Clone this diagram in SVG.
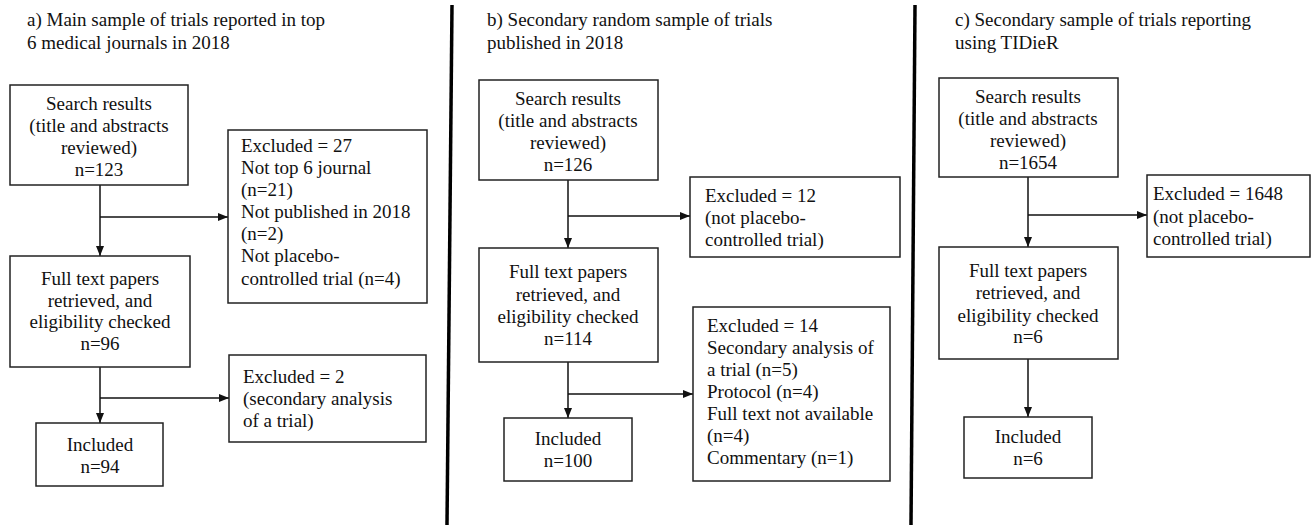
<svg xmlns="http://www.w3.org/2000/svg" width="1314" height="525" viewBox="0 0 1314 525" font-family="'Liberation Serif', 'DejaVu Serif', serif" font-size="19">
<defs>
<marker id="ah" markerWidth="10" markerHeight="8" refX="10" refY="4" orient="auto" markerUnits="userSpaceOnUse">
<path d="M0,0 L10,4 L0,8 Z" fill="#111"/>
</marker>
<style>
text{font-family:'Liberation Serif','DejaVu Serif',serif;font-size:19px;fill:#111}
.c{text-anchor:middle}
.box{fill:#fff;stroke:#222;stroke-width:1.5}
.ln{fill:none;stroke:#111;stroke-width:1.5}
.div{stroke:#000;stroke-width:3.5}
</style>
</defs>
<rect width="1314" height="525" fill="#fff"/>

<g id="titles">
<text x="27" y="26">a) Main sample of trials reported in top</text>
<text x="27" y="49">6 medical journals in 2018</text>
<text x="487" y="26">b) Secondary random sample of trials</text>
<text x="487" y="49">published in 2018</text>
<text x="955" y="26">c) Secondary sample of trials reporting</text>
<text x="955" y="49">using TIDieR</text>
</g>

<g id="dividers">
<line class="div" x1="452" y1="5" x2="447" y2="525"/>
<line class="div" x1="915" y1="5" x2="911" y2="525"/>
</g>

<g id="connectors">
<line class="ln" x1="100" y1="185" x2="100" y2="256" marker-end="url(#ah)"/>
<line class="ln" x1="100" y1="217" x2="228" y2="217" marker-end="url(#ah)"/>
<line class="ln" x1="100" y1="367" x2="100" y2="423" marker-end="url(#ah)"/>
<line class="ln" x1="100" y1="398" x2="229" y2="398" marker-end="url(#ah)"/>

<line class="ln" x1="568" y1="180" x2="568" y2="248" marker-end="url(#ah)"/>
<line class="ln" x1="568" y1="216" x2="690" y2="216" marker-end="url(#ah)"/>
<line class="ln" x1="568" y1="362" x2="568" y2="418" marker-end="url(#ah)"/>
<line class="ln" x1="568" y1="394" x2="693" y2="394" marker-end="url(#ah)"/>

<line class="ln" x1="1028" y1="177" x2="1028" y2="247" marker-end="url(#ah)"/>
<line class="ln" x1="1028" y1="215" x2="1147" y2="215" marker-end="url(#ah)"/>
<line class="ln" x1="1028" y1="359" x2="1028" y2="417" marker-end="url(#ah)"/>
</g>

<g id="a-search">
<rect class="box" x="10" y="85" width="178" height="100"/>
<text class="c" x="99" y="110">Search results</text>
<text class="c" x="99" y="132">(title and abstracts</text>
<text class="c" x="99" y="154">reviewed)</text>
<text class="c" x="99" y="176">n=123</text>
</g>
<g id="a-excl1">
<rect class="box" x="228" y="130" width="199" height="173"/>
<text x="241" y="152">Excluded = 27</text>
<text x="241" y="174">Not top 6 journal</text>
<text x="241" y="196">(n=21)</text>
<text x="241" y="218">Not published in 2018</text>
<text x="241" y="240">(n=2)</text>
<text x="241" y="262">Not placebo-</text>
<text x="241" y="285">controlled trial (n=4)</text>
</g>
<g id="a-full">
<rect class="box" x="10" y="256" width="180" height="111"/>
<text class="c" x="100" y="285">Full text papers</text>
<text class="c" x="100" y="307">retrieved, and</text>
<text class="c" x="100" y="328">eligibility checked</text>
<text class="c" x="100" y="350">n=96</text>
</g>
<g id="a-excl2">
<rect class="box" x="229" y="355" width="197" height="87"/>
<text x="243" y="383">Excluded = 2</text>
<text x="243" y="405">(secondary analysis</text>
<text x="243" y="427">of a trial)</text>
</g>
<g id="a-incl">
<rect class="box" x="36" y="423" width="127" height="63"/>
<text class="c" x="100" y="451">Included</text>
<text class="c" x="100" y="473">n=94</text>
</g>

<g id="b-search">
<rect class="box" x="479" y="80" width="179" height="100"/>
<text class="c" x="568" y="105">Search results</text>
<text class="c" x="568" y="127">(title and abstracts</text>
<text class="c" x="568" y="149">reviewed)</text>
<text class="c" x="568" y="171">n=126</text>
</g>
<g id="b-excl1">
<rect class="box" x="690" y="177" width="210" height="80"/>
<text x="705" y="202">Excluded = 12</text>
<text x="705" y="224">(not placebo-</text>
<text x="705" y="246">controlled trial)</text>
</g>
<g id="b-full">
<rect class="box" x="479" y="248" width="179" height="114"/>
<text class="c" x="568" y="278">Full text papers</text>
<text class="c" x="568" y="301">retrieved, and</text>
<text class="c" x="568" y="323">eligibility checked</text>
<text class="c" x="568" y="345">n=114</text>
</g>
<g id="b-excl2">
<rect class="box" x="693" y="307" width="197" height="174"/>
<text x="707" y="332">Excluded = 14</text>
<text x="707" y="354">Secondary analysis of</text>
<text x="707" y="376">a trial (n=5)</text>
<text x="707" y="398">Protocol (n=4)</text>
<text x="707" y="420">Full text not available</text>
<text x="707" y="442">(n=4)</text>
<text x="707" y="464">Commentary (n=1)</text>
</g>
<g id="b-incl">
<rect class="box" x="504" y="418" width="128" height="63"/>
<text class="c" x="568" y="445">Included</text>
<text class="c" x="568" y="467">n=100</text>
</g>

<g id="c-search">
<rect class="box" x="939" y="78" width="179" height="99"/>
<text class="c" x="1028" y="103">Search results</text>
<text class="c" x="1028" y="125">(title and abstracts</text>
<text class="c" x="1028" y="147">reviewed)</text>
<text class="c" x="1028" y="169">n=1654</text>
</g>
<g id="c-excl">
<rect class="box" x="1147" y="175" width="163" height="82"/>
<text x="1153" y="200">Excluded = 1648</text>
<text x="1153" y="223">(not placebo-</text>
<text x="1153" y="245">controlled trial)</text>
</g>
<g id="c-full">
<rect class="box" x="939" y="247" width="179" height="112"/>
<text class="c" x="1028" y="277">Full text papers</text>
<text class="c" x="1028" y="299">retrieved, and</text>
<text class="c" x="1028" y="322">eligibility checked</text>
<text class="c" x="1028" y="343">n=6</text>
</g>
<g id="c-incl">
<rect class="box" x="964" y="417" width="128" height="61"/>
<text class="c" x="1028" y="443">Included</text>
<text class="c" x="1028" y="465">n=6</text>
</g>
</svg>
